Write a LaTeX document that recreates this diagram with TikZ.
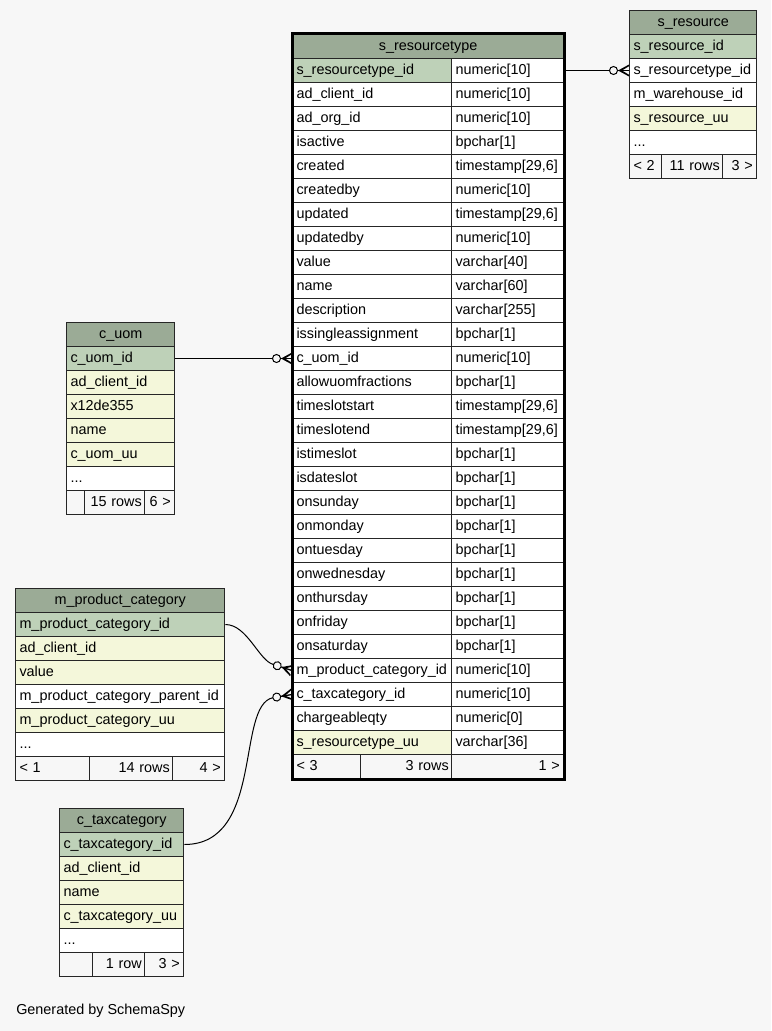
\documentclass[tikz,border=0pt]{standalone}
\usepackage{fontspec}
\setmainfont{Liberation Sans}
\usepackage{tikz}
\tikzset{>=latex}
\hyphenpenalty=10000
\definecolor{bgclr}{HTML}{F7F7F7}
\definecolor{hdclr}{HTML}{9BAB96}
\definecolor{pkclr}{HTML}{BED1B8}
\definecolor{uuclr}{HTML}{F4F7DA}
\newcommand{\moreclm}{...}
\tikzset{
	cell/.style={draw=black!85, line width=0.75pt, anchor=north west, minimum height=18pt,
		inner xsep=3pt, inner ysep=0pt, text height=7.8pt, text depth=2.4pt,
		font=\fontsize{10.8}{13}\selectfont, minimum width=#1,
		/utils/exec={\pgfmathsetlengthmacro\cellw{#1-5pt}}, text width=\cellw, align=left},
	hdr/.style={cell=#1, fill=hdclr, align=center},
	footl/.style={cell=#1, fill=bgclr},
	footr/.style={cell=#1, fill=bgclr, align=right},
	edge/.style={line width=0.75pt},
	crowodot/.pic={
		\fill (-11,0) -- (0,-6) -- (0,-4.3) -- (-7,0) -- (0,4.3) -- (0,6) -- cycle;
		\draw[line width=1pt] (-11,0) -- (0,0);
		\draw[edge] (-15.5,0) circle[radius=4];
	}
}

\begin{document}
\begin{tikzpicture}[x=0.75pt, y=-0.75pt]
	\fill[bgclr] (0,0) rectangle (771,1031);
	% s_resourcetype
	\node[hdr=202.5pt] (srt) at (292,34) {s\_resourcetype};
	\foreach \nm/\ty/\fl [count=\i] in {s\_resourcetype\_id/numeric[10]/pkclr, ad\_client\_id/numeric[10]/white,
		ad\_org\_id/numeric[10]/white, isactive/bpchar[1]/white, created/{timestamp[29,6]}/white,
		createdby/numeric[10]/white, updated/{timestamp[29,6]}/white, updatedby/numeric[10]/white,
		value/varchar[40]/white, name/varchar[60]/white, description/varchar[255]/white,
		issingleassignment/bpchar[1]/white, c\_uom\_id/numeric[10]/white, allowuomfractions/bpchar[1]/white,
		timeslotstart/{timestamp[29,6]}/white, timeslotend/{timestamp[29,6]}/white, istimeslot/bpchar[1]/white,
		isdateslot/bpchar[1]/white, onsunday/bpchar[1]/white, onmonday/bpchar[1]/white,
		ontuesday/bpchar[1]/white, onwednesday/bpchar[1]/white, onthursday/bpchar[1]/white,
		onfriday/bpchar[1]/white, onsaturday/bpchar[1]/white, m\_product\_category\_id/numeric[10]/white,
		c\_taxcategory\_id/numeric[10]/white, chargeableqty/numeric[0]/white, s\_resourcetype\_uu/varchar[36]/uuclr}{
		\node[cell=119.25pt, fill=\fl] (srt-\i) at (292,{34+24*\i}) {\nm};
		\node[cell=83.25pt, fill=white] (srtt-\i) at (451,{34+24*\i}) {\ty};
	}
	\node[footl=51pt] (srtf-1) at (292,754) {< 3};
	\node[footr=68.25pt] (srtf-2) at (360,754) {3 rows};
	\node[footr=83.25pt] (srtf-3) at (451,754) {1 >};
	\draw[line width=2.25pt] (srt.north west) rectangle (srtf-3.south east);
	% s_resource
	\node[hdr=94.5pt] (sr) at (629,10) {s\_resource};
	\foreach \nm/\fl [count=\i] in {s\_resource\_id/pkclr, s\_resourcetype\_id/white, m\_warehouse\_id/white,
		s\_resource\_uu/uuclr, \moreclm/white}
		\node[cell=94.5pt, fill=\fl] (sr-\i) at (629,{10+24*\i}) {\nm};
	\node[footl=24pt] (srf-1) at (629,154) {< 2};
	\node[footr=45.75pt] (srf-2) at (661,154) {11 rows};
	\node[footr=24.75pt] (srf-3) at (722,154) {3 >};
	% c_uom
	\node[hdr=80.25pt] (cu) at (66,322) {c\_uom};
	\foreach \nm/\fl [count=\i] in {c\_uom\_id/pkclr, ad\_client\_id/uuclr, x12de355/uuclr, name/uuclr,
		c\_uom\_uu/uuclr, \moreclm/white}
		\node[cell=80.25pt, fill=\fl] (cu-\i) at (66,{322+24*\i}) {\nm};
	\node[footl=13.5pt] (cuf-1) at (66,490) {};
	\node[footr=45pt] (cuf-2) at (84,490) {15 rows};
	\node[footr=21.75pt] (cuf-3) at (144,490) {6 >};
	% m_product_category
	\node[hdr=156pt] (mpc) at (15,588) {m\_product\_category};
	\foreach \nm/\fl [count=\i] in {m\_product\_category\_id/pkclr, ad\_client\_id/uuclr, value/uuclr,
		m\_product\_category\_parent\_id/white, m\_product\_category\_uu/uuclr, \moreclm/white}
		\node[cell=156pt, fill=\fl] (mpc-\i) at (15,{588+24*\i}) {\nm};
	\node[footl=55.5pt] (mpcf-1) at (15,756) {< 1};
	\node[footr=62.25pt] (mpcf-2) at (89,756) {14 rows};
	\node[footr=38.25pt] (mpcf-3) at (172,756) {4 >};
	% c_taxcategory
	\node[hdr=92.25pt] (ctc) at (59,808) {c\_taxcategory};
	\foreach \nm/\fl [count=\i] in {c\_taxcategory\_id/pkclr, ad\_client\_id/uuclr, name/uuclr,
		c\_taxcategory\_uu/uuclr, \moreclm/white}
		\node[cell=92.25pt, fill=\fl] (ctc-\i) at (59,{808+24*\i}) {\nm};
	\node[footl=24.75pt] (ctcf-1) at (59,952) {};
	\node[footr=39pt] (ctcf-2) at (92,952) {1 row};
	\node[footr=28.5pt] (ctcf-3) at (144,952) {3 >};
	% relations
	\path (sr-2.west) ++(-19.5,0) coordinate (e1);
	\draw[edge] (srtt-1.east) -- (e1);
	\pic at (sr-2.west) {crowodot};
	\path (srt-13.west) ++(-19.5,0) coordinate (e2);
	\draw[edge] (cu-1.east) -- (e2);
	\pic at (srt-13.west) {crowodot};
	\path (srt-26.west) ++(-18.5,-6) coordinate (e3);
	\draw[edge] (mpc-1.east) .. controls +(22,0) and +(-14.5,-3.5) .. (e3);
	\pic[rotate=-18] at (srt-26.west) {crowodot};
	\path (srt-27.west) ++(-19.2,3.2) coordinate (e4);
	\draw[edge] (ctc-1.east) .. controls +(80,0) and +(-37,8) .. (e4);
	\pic[rotate=9.5] at (srt-27.west) {crowodot};
	\node[anchor=west, inner sep=0pt, font=\fontsize{10.8}{13}\selectfont] (gen) at (16,1011) {Generated by SchemaSpy};
\end{tikzpicture}
\end{document}
